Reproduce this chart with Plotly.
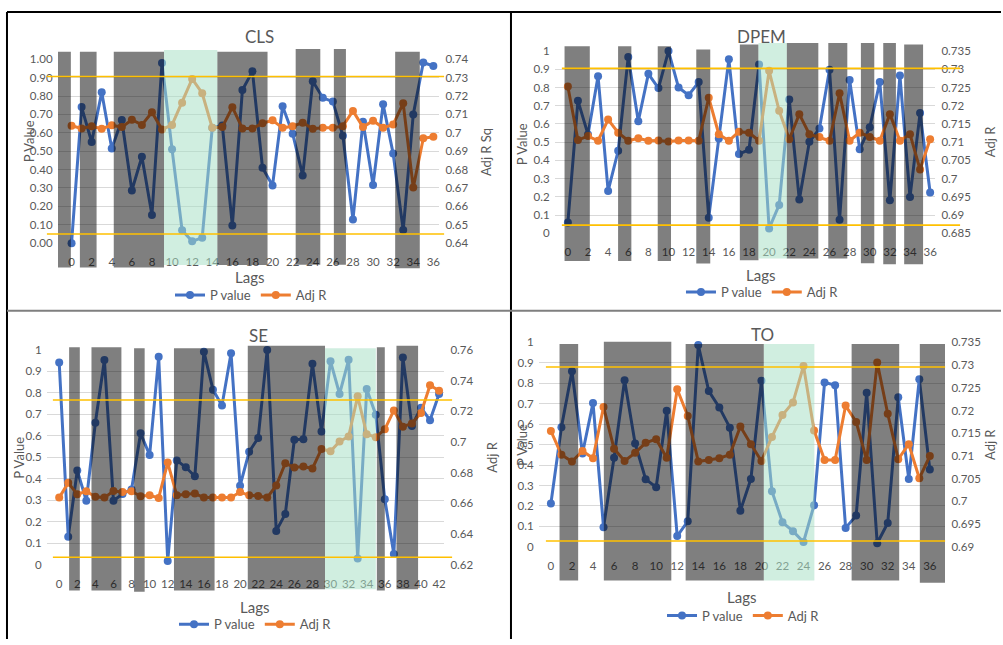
import plotly.graph_objects as go

W, H = 1003, 645

# ---------------- data ----------------
lags36 = list(range(37))
lags42 = list(range(43))

cls_p = [0.00, 0.74, 0.55, 0.82, 0.515, 0.67, 0.286, 0.47, 0.153, 0.98,
         0.51, 0.07, 0.01, 0.03, 0.627, 0.64, 0.096, 0.833, 0.934, 0.41,
         0.314, 0.744, 0.595, 0.368, 0.88, 0.79, 0.77, 0.584, 0.128, 0.66,
         0.316, 0.755, 0.487, 0.071, 0.70, 0.982, 0.963]
cls_r = [0.7038, 0.7023, 0.7036, 0.7022, 0.7041, 0.7031, 0.7071, 0.7043, 0.7112, 0.7018,
         0.7043, 0.7164, 0.7293, 0.7215, 0.7027, 0.7031, 0.7139, 0.7023, 0.7023, 0.7052,
         0.7068, 0.7027, 0.7036, 0.7055, 0.7022, 0.7027, 0.7027, 0.7036, 0.7119, 0.7031,
         0.7066, 0.7027, 0.7045, 0.7160, 0.6702, 0.6970, 0.6979]

dpem_p = [0.059, 0.728, 0.543, 0.862, 0.233, 0.453, 0.968, 0.615, 0.875, 0.797,
          1.0, 0.80, 0.758, 0.83, 0.086, 0.52, 0.955, 0.435, 0.459, 0.927,
          0.027, 0.156, 0.735, 0.185, 0.502, 0.575, 0.898, 0.075, 0.842, 0.462,
          0.582, 0.83, 0.181, 0.866, 0.199, 0.66, 0.224]
dpem_r = [0.7253, 0.7106, 0.7117, 0.7104, 0.7162, 0.7126, 0.7104, 0.7111, 0.7104, 0.7105,
          0.7102, 0.7105, 0.7105, 0.7104, 0.7222, 0.7122, 0.7104, 0.7129, 0.7126, 0.7104,
          0.7296, 0.7186, 0.7108, 0.7177, 0.7122, 0.7114, 0.7104, 0.7234, 0.7104, 0.7126,
          0.7114, 0.7104, 0.7177, 0.7104, 0.7122, 0.7025, 0.7108]

se_p = [0.942, 0.131, 0.439, 0.298, 0.661, 0.953, 0.298, 0.33, 0.351, 0.612,
        0.511, 0.968, 0.018, 0.486, 0.454, 0.412, 0.992, 0.815, 0.742, 0.985,
        0.368, 0.526, 0.59, 1.0, 0.158, 0.237, 0.582, 0.585, 0.936, 0.62,
        0.947, 0.795, 0.954, 0.03, 0.818, 0.699, 0.305, 0.05, 0.965, 0.646,
        0.731, 0.673, 0.795]
se_r = [0.6638, 0.6734, 0.6660, 0.6679, 0.6643, 0.6638, 0.6681, 0.6674, 0.6679, 0.6647,
        0.6653, 0.6636, 0.6866, 0.6653, 0.6660, 0.6664, 0.6638, 0.6638, 0.6638, 0.6638,
        0.6674, 0.6653, 0.6649, 0.6638, 0.6717, 0.6862, 0.6834, 0.6840, 0.6828, 0.6955,
        0.6940, 0.7004, 0.7036, 0.7298, 0.7051, 0.7032, 0.7083, 0.7206, 0.7100, 0.7121,
        0.7189, 0.7370, 0.7334]

to_p = [0.212, 0.585, 0.859, 0.457, 0.704, 0.096, 0.436, 0.815, 0.506, 0.331,
        0.292, 0.666, 0.053, 0.125, 0.987, 0.762, 0.682, 0.583, 0.177, 0.332,
        0.812, 0.272, 0.12, 0.077, 0.024, 0.204, 0.804, 0.791, 0.093, 0.153,
        0.754, 0.018, 0.117, 0.732, 0.332, 0.82, 0.379]
to_r = [0.7155, 0.7103, 0.7088, 0.7111, 0.7095, 0.7208, 0.7116, 0.7089, 0.7107, 0.7129,
        0.7137, 0.7096, 0.7247, 0.7188, 0.7088, 0.7091, 0.7095, 0.7103, 0.7165, 0.7126,
        0.7089, 0.7142, 0.7190, 0.7218, 0.7298, 0.7156, 0.7091, 0.7091, 0.7211, 0.7175,
        0.7091, 0.7306, 0.7193, 0.7093, 0.7126, 0.7051, 0.7100]

# shaded lag ranges: (start lag, end lag, top, bottom) -- top/bottom in axis-domain fractions
cls_gray = [(-1.66, -0.07, 1.04, -0.132), (0.83, 2.49, 1.04, -0.132), (4.2, 9.2, 1.04, -0.132),
            (14.5, 19.5, 1.04, -0.119), (22.3, 24.75, 1.056, -0.117), (26.1, 27.3, 1.056, -0.117),
            (32.2, 34.65, 1.04, -0.137)]
cls_green = [(9.2, 14.5, 1.05, -0.119)]
dpem_gray = [(-0.33, 2.18, 1.027, -0.152), (4.99, 6.31, 1.027, -0.152), (8.93, 10.25, 1.027, -0.152),
             (12.76, 14.15, 1.009, -0.165), (17.09, 18.94, 1.036, -0.147), (21.75, 24.89, 1.045, -0.138),
             (25.88, 27.77, 1.045, -0.138), (29.12, 30.45, 1.045, -0.164), (31.34, 32.6, 1.045, -0.17),
             (33.42, 35.3, 1.036, -0.17)]
dpem_green = [(18.94, 21.75, 1.045, -0.138)]
se_gray = [(1.10, 2.28, 1.012, -0.12), (3.57, 6.88, 1.012, -0.12), (8.28, 9.45, 1.008, -0.125),
           (12.69, 17.18, 1.008, -0.12), (20.85, 29.39, 1.02, -0.114), (35.12, 36.0, 1.012, -0.12),
           (37.29, 39.68, 1.02, -0.114)]
se_green = [(29.39, 35.01, 1.008, -0.114)]
to_gray = [(0.82, 2.59, 0.992, -0.164), (5.03, 11.44, 1.003, -0.164), (12.8, 20.23, 0.992, -0.164),
           (28.57, 33.09, 0.992, -0.164), (35.05, 37.48, 0.992, -0.175)]
to_green = [(20.23, 25.03, 0.992, -0.164)]

# yellow threshold lines on the P value axis
cls_thr = [0.906, 0.05]
dpem_thr = [0.905, 0.045]
se_thr = [0.767, 0.035]
to_thr = [0.88, 0.029]

# ---------------- styling ----------------
BLUE = '#4472C4'
ORANGE = '#ED7D31'
TXT = '#595959'
GRID = '#d9d9d9'
GRAY = 'rgba(0,0,0,0.5)'
GREEN = 'rgba(166,223,196,0.53)'
YEL = '#FFC000'
FONT = 'Lato'

panels = [
    dict(name='CLS', lags=lags36, p=cls_p, r=cls_r, rtitle='Adj R Sq', rrange=[0.64, 0.74], rdtick=0.01,
         pfmt='.2f', dom=(58, 440), lag0=71.7, step=10.07, p1=53.3, p0=241.0,
         gray=cls_gray, green=cls_green, thr=cls_thr, yl=(47, 445),
         title=(260, 30), ltitle=(29, 137), rt=(487, 148), lags_t=(250, 276), leg=(252, 294)),
    dict(name='DPEM', lags=lags36, p=dpem_p, r=dpem_r, rtitle='Adj R', rrange=[0.685, 0.735], rdtick=0.005,
         pfmt='', dom=(556, 937), lag0=569.0, step=10.083, p1=45.0, p0=231.0,
         gray=dpem_gray, green=dpem_green, thr=dpem_thr, yl=(563, 962),
         title=(763, 30), ltitle=(523, 140), rt=(992, 138), lags_t=(762, 274), leg=(764, 291)),
    dict(name='SE', lags=lags42, p=se_p, r=se_r, rtitle='Adj R', rrange=[0.62, 0.76], rdtick=0.02,
         pfmt='', dom=(47, 445), lag0=59.3, step=9.063, p1=350.0, p0=569.3,
         gray=se_gray, green=se_green, thr=se_thr, yl=(53, 453),
         title=(259, 335), ltitle=(19, 460), rt=(493, 460), lags_t=(255, 612), leg=(256, 630)),
    dict(name='TO', lags=lags36, p=to_p, r=to_r, rtitle='Adj R', rrange=[0.69, 0.735], rdtick=0.005,
         pfmt='', dom=(540, 947), lag0=552.0, step=10.547, p1=342.3, p0=551.0,
         gray=to_gray, green=to_green, thr=to_thr, yl=(547, 947),
         title=(764, 334), ltitle=(523, 447), rt=(992, 447), lags_t=(743, 602), leg=(745, 621)),
]

fig = go.Figure()
layout = dict(width=W, height=H, margin=dict(l=0, r=0, t=0, b=0),
              paper_bgcolor='white', plot_bgcolor='rgba(0,0,0,0)',
              font=dict(family=FONT, color=TXT), showlegend=True)
shapes = []
annotations = []


def px(x):
    return x / W


def py(y):
    return 1 - y / H


for i, pn in enumerate(panels):
    k = i + 1
    xs = '' if k == 1 else str(k)
    ya_id = 2 * k - 1
    yb_id = 2 * k
    ya_s = '' if ya_id == 1 else str(ya_id)
    yb_s = str(yb_id)
    xname, yaname, ybname = 'x' + xs, 'y' + ya_s, 'y' + yb_s
    legname = 'legend' if k == 1 else 'legend' + str(k)

    d0, d1 = pn['dom']
    xr = [(d0 - pn['lag0']) / pn['step'], (d1 - pn['lag0']) / pn['step']]
    ydom = [py(pn['p0']), py(pn['p1'])]

    layout['xaxis' + xs] = dict(domain=[px(d0), px(d1)], range=xr, anchor=yaname,
                                tickmode='linear', tick0=0, dtick=2, showgrid=False, zeroline=False,
                                showline=False, ticks='outside', ticklen=8, tickcolor='rgba(0,0,0,0)',
                                tickfont=dict(size=11.5, color=TXT, family=FONT))
    ya = dict(domain=ydom, range=[0, 1], anchor=xname, tickmode='linear', tick0=0, dtick=0.1,
              showgrid=True, gridcolor=GRID, gridwidth=1, zeroline=False, showline=False,
              ticks='outside', ticklen=2, tickcolor='rgba(0,0,0,0)',
              tickfont=dict(size=11.5, color=TXT, family=FONT))
    if pn['pfmt']:
        ya['tickformat'] = pn['pfmt']
    layout['yaxis' + ya_s] = ya
    layout['yaxis' + yb_s] = dict(range=pn['rrange'], overlaying=yaname, anchor=xname, side='right',
                                  tickmode='linear', tick0=pn['rrange'][0], dtick=pn['rdtick'],
                                  showgrid=False, zeroline=False, showline=False,
                                  ticks='outside', ticklen=3, tickcolor='rgba(0,0,0,0)',
                                  tickfont=dict(size=11.5, color=TXT, family=FONT))

    fig.add_trace(go.Scatter(x=pn['lags'], y=pn['p'], name='P value', mode='lines+markers',
                             line=dict(color=BLUE, width=3), marker=dict(color=BLUE, size=8),
                             xaxis=xname, yaxis=yaname, legend=legname, cliponaxis=False))
    fig.add_trace(go.Scatter(x=pn['lags'], y=pn['r'], name='Adj R', mode='lines+markers',
                             line=dict(color=ORANGE, width=3), marker=dict(color=ORANGE, size=8),
                             xaxis=xname, yaxis=ybname, legend=legname, cliponaxis=False))

    for (a, b, top, bot) in pn['gray']:
        shapes.append(dict(type='rect', xref=xname, yref=yaname + ' domain', x0=a, x1=b, y0=bot, y1=top,
                           fillcolor=GRAY, line=dict(width=0), layer='above'))
    for (a, b, top, bot) in pn['green']:
        shapes.append(dict(type='rect', xref=xname, yref=yaname + ' domain', x0=a, x1=b, y0=bot, y1=top,
                           fillcolor=GREEN, line=dict(width=0), layer='above'))
    for t in pn['thr']:
        shapes.append(dict(type='line', xref='paper', yref=yaname, x0=px(pn['yl'][0]), x1=px(pn['yl'][1]),
                           y0=t, y1=t, line=dict(color=YEL, width=1.6), layer='above'))

    annotations.append(dict(text=pn['name'], x=px(pn['title'][0]), y=py(pn['title'][1]), xref='paper',
                            yref='paper', showarrow=False, xanchor='center', yanchor='middle',
                            font=dict(size=17, color=TXT, family=FONT)))
    annotations.append(dict(text='P Value', x=px(pn['ltitle'][0]), y=py(pn['ltitle'][1]), xref='paper',
                            yref='paper', showarrow=False, textangle=-90, xanchor='center', yanchor='middle',
                            font=dict(size=13, color=TXT, family=FONT)))
    annotations.append(dict(text=pn['rtitle'], x=px(pn['rt'][0]), y=py(pn['rt'][1]), xref='paper',
                            yref='paper', showarrow=False, textangle=-90, xanchor='center', yanchor='middle',
                            font=dict(size=13, color=TXT, family=FONT)))
    annotations.append(dict(text='Lags', x=px(pn['lags_t'][0]), y=py(pn['lags_t'][1]), xref='paper',
                            yref='paper', showarrow=False, xanchor='center', yanchor='middle',
                            font=dict(size=15, color=TXT, family=FONT)))
    layout[legname] = dict(orientation='h', x=px(pn['leg'][0]), y=py(pn['leg'][1]), xanchor='center',
                           yanchor='middle', bgcolor='rgba(0,0,0,0)', itemwidth=30,
                           font=dict(size=13, color=TXT, family=FONT))

# panel frame lines
frame = [
    (7, 5, 1003, 5, 'black', 2),
    (7, 5, 7, 645, 'black', 2),
    (512, 5, 512, 645, 'black', 2),
    (7, 310, 1003, 310, '#7f7f7f', 2),
]
for (x0, y0, x1, y1, c, w) in frame:
    shapes.append(dict(type='line', xref='paper', yref='paper', x0=px(x0), y0=py(y0), x1=px(x1), y1=py(y1),
                       line=dict(color=c, width=w), layer='above'))

layout['shapes'] = shapes
layout['annotations'] = annotations
fig.update_layout(**layout)
fig.write_html('out.html')
